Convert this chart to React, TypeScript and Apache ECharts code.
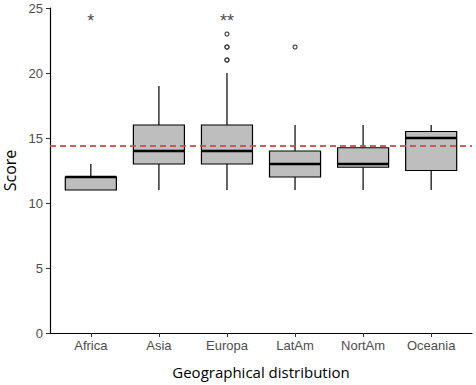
import React, { useEffect, useRef } from "react";
import * as echarts from "echarts";

const categories = ["Africa", "Asia", "Europa", "LatAm", "NortAm", "Oceania"];
const whiskerLow = [11, 11, 11, 11, 11, 11];
const q1 = [11, 13, 13, 12, 12.75, 12.5];
const median = [12, 14, 14, 13, 13, 15];
const q3 = [12, 16, 16, 14, 14.25, 15.5];
const whiskerHigh = [13, 19, 20, 16, 16, 16];
const outlierGroup = [3, 3, 3, 3, 3, 4];
const outlierValue = [21, 21, 22, 22, 23, 22];
const signifGroup = [1, 3];
const signifText = ["*", "**"];
const signifY = 24.0;
const referenceLine = 14.4;
const yTicks = [0, 5, 10, 15, 20, 25];

export default function App() {
  const ref = useRef<HTMLDivElement>(null);
  useEffect(() => {
    if (!ref.current) return;
    const chart = echarts.init(ref.current, null, { renderer: "svg" });
    const boxData = categories.map((_, i) => [i + 1, whiskerLow[i], q1[i], median[i], q3[i], whiskerHigh[i]]);
    const positions = categories.map((_, i) => i + 1);
    const labelFont = "'Liberation Sans', Arial, sans-serif";
    const titleFont = "'Open Sans', sans-serif";
    chart.setOption({
      animation: false,
      grid: { left: 50, right: 4, top: 8, bottom: 52, containLabel: false, outerBoundsMode: "none" },
      xAxis: {
        type: "value",
        min: 0.4,
        max: 6.6,
        name: "Geographical distribution",
        nameLocation: "middle",
        nameGap: 31,
        nameTextStyle: { fontFamily: titleFont, fontSize: 15, color: "#000" },
        axisLine: { show: true, lineStyle: { color: "#000", width: 1.2 } },
        axisTick: { show: true, length: 4, customValues: positions, lineStyle: { color: "#333" } },
        axisLabel: {
          customValues: positions,
          margin: 6,
          fontFamily: labelFont,
          fontSize: 13,
          color: "#4D4D4D",
          formatter: (v: number) => categories[Math.round(v) - 1] ?? "",
        },
        splitLine: { show: false },
      },
      yAxis: {
        type: "value",
        min: 0,
        max: 25,
        interval: 5,
        name: "Score",
        nameLocation: "middle",
        nameRotate: 90,
        nameGap: 32,
        nameTextStyle: { fontFamily: titleFont, fontSize: 16, color: "#000" },
        axisLine: { show: true, lineStyle: { color: "#000", width: 1.2 } },
        axisTick: { show: true, length: 4, lineStyle: { color: "#333" } },
        axisLabel: {
          customValues: yTicks,
          margin: 7,
          fontFamily: labelFont,
          fontSize: 13,
          color: "#4D4D4D",
        },
        splitLine: { show: false },
      },
      series: [
        {
          type: "custom",
          data: boxData,
          encode: { x: 0, y: [1, 2, 3, 4, 5] },
          clip: false,
          renderItem: (params: any, api: any) => {
            const x = api.value(0);
            const pMin = api.coord([x, api.value(1)]);
            const pQ1 = api.coord([x, api.value(2)]);
            const pMed = api.coord([x, api.value(3)]);
            const pQ3 = api.coord([x, api.value(4)]);
            const pMax = api.coord([x, api.value(5)]);
            const w = api.size([1, 0])[0] * 0.75;
            const lineStyle = { stroke: "#000", lineWidth: 1.2 };
            return {
              type: "group",
              children: [
                { type: "line", shape: { x1: pMin[0], y1: pMin[1], x2: pQ1[0], y2: pQ1[1] }, style: lineStyle },
                { type: "line", shape: { x1: pQ3[0], y1: pQ3[1], x2: pMax[0], y2: pMax[1] }, style: lineStyle },
                {
                  type: "rect",
                  shape: { x: pQ1[0] - w / 2, y: pQ3[1], width: w, height: pQ1[1] - pQ3[1] },
                  style: { fill: "#BEBEBE", stroke: "#000", lineWidth: 1.2 },
                },
                {
                  type: "line",
                  shape: { x1: pMed[0] - w / 2, y1: pMed[1], x2: pMed[0] + w / 2, y2: pMed[1] },
                  style: { stroke: "#000", lineWidth: 2.6 },
                },
              ],
            };
          },
          markLine: {
            silent: true,
            symbol: "none",
            label: { show: false },
            lineStyle: { color: "#C4504E", width: 2, type: [6, 4], opacity: 0.9 },
            data: [{ yAxis: referenceLine }],
          },
          z: 2,
        },
        {
          type: "scatter",
          data: outlierGroup.map((g, i) => [g, outlierValue[i]]),
          symbol: "circle",
          symbolSize: 4,
          itemStyle: { color: "#fff", borderColor: "#000", borderWidth: 1.1 },
          z: 3,
        },
        {
          type: "scatter",
          data: signifGroup.map((g, i) => [g, signifY, signifText[i]]),
          symbolSize: 0,
          label: {
            show: true,
            position: "inside",
            formatter: (p: any) => p.data[2],
            fontFamily: labelFont,
            fontSize: 18,
            color: "#111",
          },
          z: 4,
        },
      ],
    });
    return () => chart.dispose();
  }, []);
  return <div ref={ref} style={{ width: 476, height: 385, position: "absolute", left: 0, top: 0 }} />;
}
